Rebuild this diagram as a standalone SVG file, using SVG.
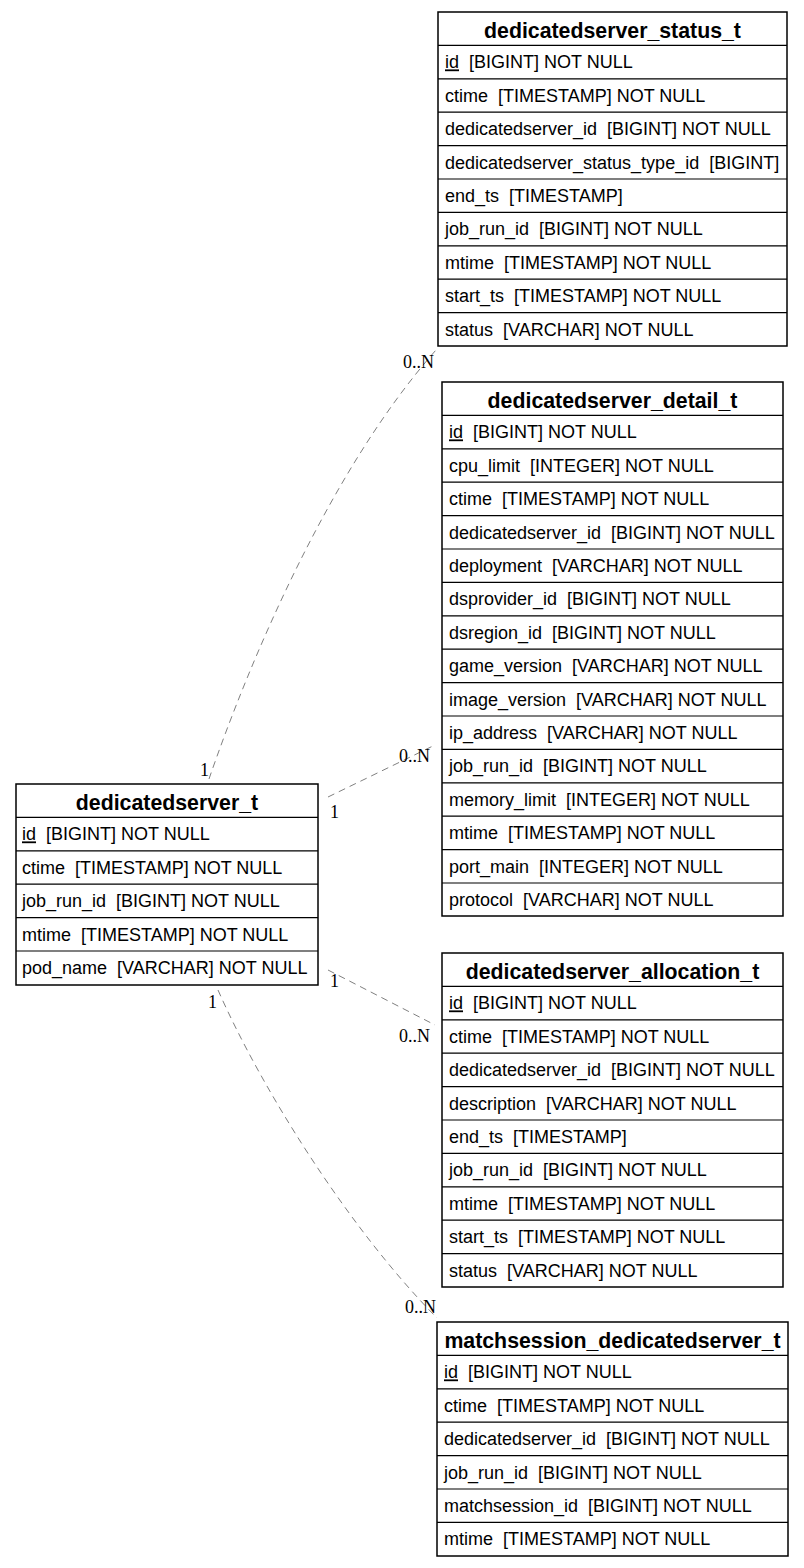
<svg xmlns="http://www.w3.org/2000/svg" width="804" height="1568" viewBox="0 0 804 1568" xml:space="preserve">
<style>
.box{fill:#fff;stroke:#000;stroke-width:1.5}
.sep{stroke:#000;stroke-width:1.2}
.h{font-family:"Liberation Sans",Arial,sans-serif;font-weight:bold;font-size:21.3px;text-anchor:middle;fill:#000}
.r{font-family:"Liberation Sans",Arial,sans-serif;font-size:18px;fill:#000;white-space:pre}
.u{text-decoration:underline}
.edge{fill:none;stroke:#808080;stroke-width:1;stroke-dasharray:7,5}
.lbl{font-family:"Liberation Serif","Times New Roman",serif;font-size:18px;fill:#000}
</style>
<defs>
<g id="seps16">
<line class="sep" x1="0" y1="33.4" x2="1" y2="33.4"/>
</g>
</defs>

<g id="connectors">
<path class="edge" d="M209,779 C250,660 330,470 436,350"/>
<text class="lbl" x="200" y="776">1</text>
<text class="lbl" x="403" y="368">0..N</text>

<path class="edge" d="M328,797 L435,745"/>
<text class="lbl" x="330" y="818">1</text>
<text class="lbl" x="399" y="762">0..N</text>

<path class="edge" d="M328,970 L435,1025"/>
<text class="lbl" x="330" y="987">1</text>
<text class="lbl" x="399" y="1042">0..N</text>

<path class="edge" d="M218,990 C262,1090 350,1230 437,1318"/>
<text class="lbl" x="208" y="1008">1</text>
<text class="lbl" x="405" y="1313">0..N</text>
</g>

<g id="dedicatedserver_status_t" transform="translate(438,12)">
<rect class="box" x="0" y="0" width="349" height="334"/>
<path class="sep" d="M0,33.4H349M0,66.8H349M0,100.2H349M0,133.6H349M0,167H349M0,200.4H349M0,233.8H349M0,267.2H349M0,300.6H349"/>
<text class="h" x="174.5" y="25.5">dedicatedserver_status_t</text>
<text class="r" x="7" y="56.4"><tspan class="u">id</tspan>  [BIGINT] NOT NULL</text>
<text class="r" x="7" y="89.8">ctime  [TIMESTAMP] NOT NULL</text>
<text class="r" x="7" y="123.2">dedicatedserver_id  [BIGINT] NOT NULL</text>
<text class="r" x="7" y="156.6">dedicatedserver_status_type_id  [BIGINT]</text>
<text class="r" x="7" y="190">end_ts  [TIMESTAMP]</text>
<text class="r" x="7" y="223.4">job_run_id  [BIGINT] NOT NULL</text>
<text class="r" x="7" y="256.8">mtime  [TIMESTAMP] NOT NULL</text>
<text class="r" x="7" y="290.2">start_ts  [TIMESTAMP] NOT NULL</text>
<text class="r" x="7" y="323.6">status  [VARCHAR] NOT NULL</text>
</g>

<g id="dedicatedserver_detail_t" transform="translate(442,382)">
<rect class="box" x="0" y="0" width="341" height="534"/>
<path class="sep" d="M0,33.4H341M0,66.8H341M0,100.2H341M0,133.6H341M0,167H341M0,200.4H341M0,233.8H341M0,267.2H341M0,300.6H341M0,334H341M0,367.4H341M0,400.8H341M0,434.2H341M0,467.6H341M0,501H341"/>
<text class="h" x="170.5" y="25.5">dedicatedserver_detail_t</text>
<text class="r" x="7" y="56.4"><tspan class="u">id</tspan>  [BIGINT] NOT NULL</text>
<text class="r" x="7" y="89.8">cpu_limit  [INTEGER] NOT NULL</text>
<text class="r" x="7" y="123.2">ctime  [TIMESTAMP] NOT NULL</text>
<text class="r" x="7" y="156.6">dedicatedserver_id  [BIGINT] NOT NULL</text>
<text class="r" x="7" y="190">deployment  [VARCHAR] NOT NULL</text>
<text class="r" x="7" y="223.4">dsprovider_id  [BIGINT] NOT NULL</text>
<text class="r" x="7" y="256.8">dsregion_id  [BIGINT] NOT NULL</text>
<text class="r" x="7" y="290.2">game_version  [VARCHAR] NOT NULL</text>
<text class="r" x="7" y="323.6">image_version  [VARCHAR] NOT NULL</text>
<text class="r" x="7" y="357">ip_address  [VARCHAR] NOT NULL</text>
<text class="r" x="7" y="390.4">job_run_id  [BIGINT] NOT NULL</text>
<text class="r" x="7" y="423.8">memory_limit  [INTEGER] NOT NULL</text>
<text class="r" x="7" y="457.2">mtime  [TIMESTAMP] NOT NULL</text>
<text class="r" x="7" y="490.6">port_main  [INTEGER] NOT NULL</text>
<text class="r" x="7" y="524">protocol  [VARCHAR] NOT NULL</text>
</g>

<g id="dedicatedserver_t" transform="translate(16,784)">
<rect class="box" x="0" y="0" width="302" height="201"/>
<path class="sep" d="M0,33.4H302M0,66.8H302M0,100.2H302M0,133.6H302M0,167H302"/>
<text class="h" x="151" y="25.5">dedicatedserver_t</text>
<text class="r" x="6" y="56.4"><tspan class="u">id</tspan>  [BIGINT] NOT NULL</text>
<text class="r" x="6" y="89.8">ctime  [TIMESTAMP] NOT NULL</text>
<text class="r" x="6" y="123.2">job_run_id  [BIGINT] NOT NULL</text>
<text class="r" x="6" y="156.6">mtime  [TIMESTAMP] NOT NULL</text>
<text class="r" x="6" y="190">pod_name  [VARCHAR] NOT NULL</text>
</g>

<g id="dedicatedserver_allocation_t" transform="translate(442,953)">
<rect class="box" x="0" y="0" width="341" height="334"/>
<path class="sep" d="M0,33.4H341M0,66.8H341M0,100.2H341M0,133.6H341M0,167H341M0,200.4H341M0,233.8H341M0,267.2H341M0,300.6H341"/>
<text class="h" x="170.5" y="25.5">dedicatedserver_allocation_t</text>
<text class="r" x="7" y="56.4"><tspan class="u">id</tspan>  [BIGINT] NOT NULL</text>
<text class="r" x="7" y="89.8">ctime  [TIMESTAMP] NOT NULL</text>
<text class="r" x="7" y="123.2">dedicatedserver_id  [BIGINT] NOT NULL</text>
<text class="r" x="7" y="156.6">description  [VARCHAR] NOT NULL</text>
<text class="r" x="7" y="190">end_ts  [TIMESTAMP]</text>
<text class="r" x="7" y="223.4">job_run_id  [BIGINT] NOT NULL</text>
<text class="r" x="7" y="256.8">mtime  [TIMESTAMP] NOT NULL</text>
<text class="r" x="7" y="290.2">start_ts  [TIMESTAMP] NOT NULL</text>
<text class="r" x="7" y="323.6">status  [VARCHAR] NOT NULL</text>
</g>

<g id="matchsession_dedicatedserver_t" transform="translate(437,1322)">
<rect class="box" x="0" y="0" width="351" height="234"/>
<path class="sep" d="M0,33.4H351M0,66.8H351M0,100.2H351M0,133.6H351M0,167H351M0,200.4H351"/>
<text class="h" x="175.5" y="25.5">matchsession_dedicatedserver_t</text>
<text class="r" x="7" y="56.4"><tspan class="u">id</tspan>  [BIGINT] NOT NULL</text>
<text class="r" x="7" y="89.8">ctime  [TIMESTAMP] NOT NULL</text>
<text class="r" x="7" y="123.2">dedicatedserver_id  [BIGINT] NOT NULL</text>
<text class="r" x="7" y="156.6">job_run_id  [BIGINT] NOT NULL</text>
<text class="r" x="7" y="190">matchsession_id  [BIGINT] NOT NULL</text>
<text class="r" x="7" y="223.4">mtime  [TIMESTAMP] NOT NULL</text>
</g>
</svg>
